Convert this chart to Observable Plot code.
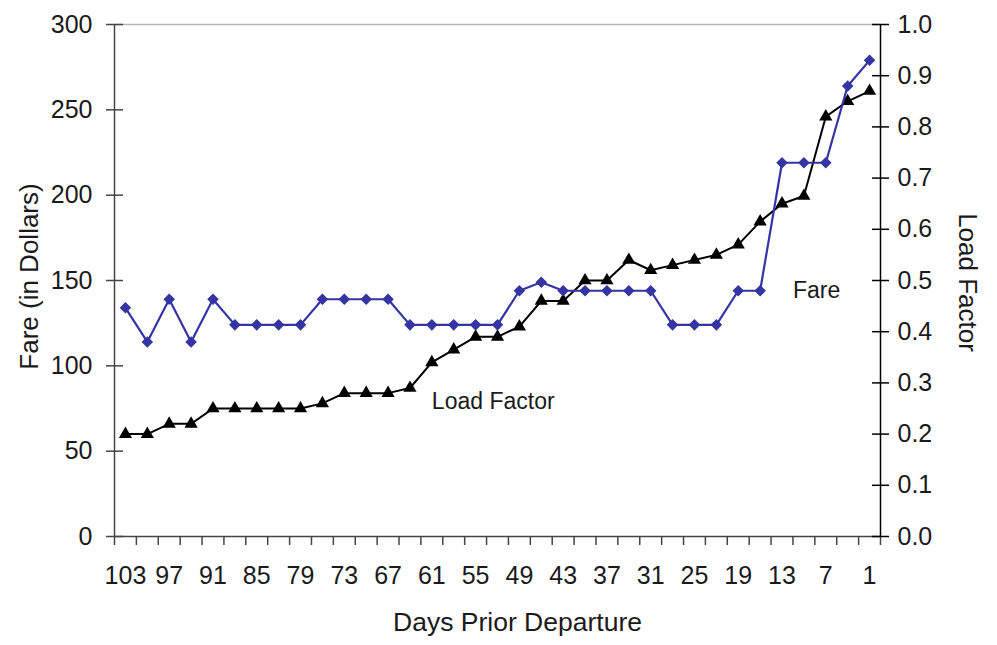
<!DOCTYPE html>
<html><head><meta charset="utf-8">
<script src="https://cdn.jsdelivr.net/npm/d3@7"></script>
<script src="https://cdn.jsdelivr.net/npm/@observablehq/plot@0.6"></script>
<style>body{margin:0;background:#fff}</style>
</head><body><div id="chart"></div>
<script>
// Days prior to departure (categories, left to right)
const days = [103,100,97,94,91,88,85,82,79,76,73,70,67,64,61,58,55,52,49,46,43,40,37,34,31,28,25,22,19,16,13,10,7,4,1];
// Fare in dollars (left axis)
const fare = [134,114,139,114,139,124,124,124,124,139,139,139,139,124,124,124,124,124,144,149,144,144,144,144,144,124,124,124,144,144,219,219,219,264,279];
// Load factor (right axis)
const loadFactor = [0.20,0.20,0.22,0.22,0.25,0.25,0.25,0.25,0.25,0.26,0.28,0.28,0.28,0.29,0.34,0.365,0.39,0.39,0.41,0.46,0.46,0.50,0.50,0.54,0.52,0.53,0.54,0.55,0.57,0.615,0.65,0.665,0.82,0.85,0.87];
// Tick labels
const dayTickLabels = [103,97,91,85,79,73,67,61,55,49,43,37,31,25,19,13,7,1];
const fareTicks = [0,50,100,150,200,250,300];
const loadFactorTicks = [0,0.1,0.2,0.3,0.4,0.5,0.6,0.7,0.8,0.9,1.0];
// In-chart series labels (anchored in data coordinates)
const seriesLabels = [
  {text: "Load Factor", day: 61, value: 79},
  {text: "Fare", day: 11.5, value: 144}
];

const LF_SCALE = 300; // right axis 0..1 mapped onto left axis 0..300
const rows = days.map((d, i) => ({day: d, fare: fare[i], lf: loadFactor[i] * LF_SCALE}));
// category boundaries for x tick marks (between categories)
const boundaries = days.map(d => d + 1.5).concat([days[days.length - 1] - 1.5]);

const FONT = '"Liberation Sans", Arial, Helvetica, sans-serif';
const BLUE = "#3434a2";

const chart = Plot.plot({
  width: 997, height: 645,
  marginLeft: 114, marginRight: 117, marginTop: 24, marginBottom: 109,
  style: {fontFamily: FONT, fontSize: "25px", color: "#1a1a1a", background: "#fff"},
  x: {type: "linear", domain: [boundaries[0], boundaries[boundaries.length - 1]]},
  y: {domain: [0, 300]},
  marks: [
    Plot.ruleY([300], {stroke: "#b4b4b4", strokeWidth: 1.5}),
    Plot.ruleY([0], {stroke: "#444", strokeWidth: 1.5}),
    Plot.ruleX([boundaries[0]], {stroke: "#444", strokeWidth: 1.5}),
    Plot.ruleX([boundaries[boundaries.length - 1]], {stroke: "#000", strokeWidth: 1.5}),
    Plot.axisX(boundaries, {tickSize: 9, tickFormat: () => "", stroke: "#444", strokeWidth: 1.5, label: null}),
    Plot.axisX(dayTickLabels, {tickSize: 0, tickPadding: 30, label: null, fontSize: 25}),
    Plot.axisY(fareTicks, {anchor: "left", tickSize: 17, dx: 9, tickPadding: 14, label: null, stroke: "#444", strokeWidth: 1.5, fontSize: 25}),
    Plot.axisY(loadFactorTicks.map(v => v * LF_SCALE), {anchor: "right", tickSize: 17, dx: -9, tickPadding: 9,
      tickFormat: v => (v / LF_SCALE).toFixed(1), label: null, stroke: "#000", strokeWidth: 1.5, fontSize: 25}),
    Plot.line(rows, {x: "day", y: "lf", stroke: "#000", strokeWidth: 2}),
    Plot.dot(rows, {x: "day", y: "lf", symbol: "triangle", fill: "#000", r: 4.9}),
    Plot.line(rows, {x: "day", y: "fare", stroke: BLUE, strokeWidth: 2.2}),
    Plot.dot(rows, {x: "day", y: "fare", symbol: "diamond2", fill: BLUE, r: 5.2}),
    Plot.text(seriesLabels, {x: "day", y: "value", text: "text", textAnchor: "start", fontSize: 23}),
    Plot.text(["Fare (in Dollars)"], {text: d => d, frameAnchor: "left", textAnchor: "middle", lineAnchor: "middle", rotate: -90, dx: -85, dy: -4, fontSize: 26}),
    Plot.text(["Load Factor"], {text: d => d, frameAnchor: "right", textAnchor: "middle", lineAnchor: "middle", rotate: 90, dx: 87, dy: 2, fontSize: 26}),
    Plot.text(["Days Prior Departure"], {text: d => d, frameAnchor: "bottom", lineAnchor: "middle", dx: 20, dy: 86, fontSize: 26.5})
  ]
});
document.getElementById("chart").appendChild(chart);
</script>
</body></html>
